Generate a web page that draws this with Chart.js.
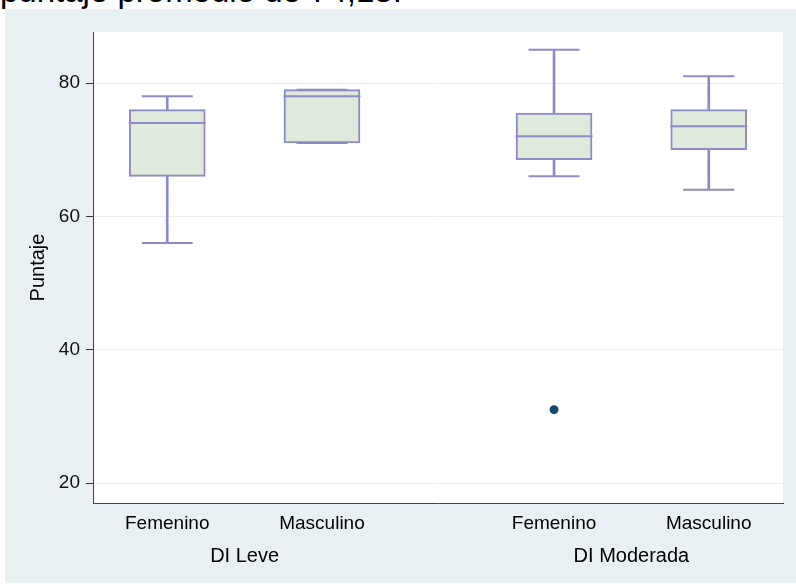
<!DOCTYPE html>
<html>
<head>
<meta charset="utf-8">
<script src="https://cdn.jsdelivr.net/npm/chart.js@4"></script>
<style>
  html, body { margin: 0; padding: 0; background: #fff; }
  #wrap { position: relative; width: 796px; height: 584px; overflow: hidden; }
  #caption { position: absolute; left: 0; top: -26px; font: 33px/33px "Liberation Sans", Arial, sans-serif; color: #000; white-space: nowrap; }
  #chart { position: absolute; left: 0; top: 0; }
</style>
</head>
<body>
<div id="wrap">
  <div id="caption">puntaje promedio de 74,13.</div>
  <canvas id="chart" width="796" height="584"></canvas>
</div>
<script>
// groups / categories
const groupLabels = ['DI Leve', 'DI Moderada'];
const groupPos = [1.5, 4];
const sexLabels = ['Femenino', 'Masculino', 'Femenino', 'Masculino'];
const xPos = [1, 2, 3.5, 4.5];

// box plot stats
const whiskerLow = [56, 71, 66, 64];
const q1 = [66, 71, 68.5, 70];
const median = [74, 78, 72, 73.5];
const q3 = [76, 79, 75.5, 76];
const whiskerHigh = [78, 79, 85, 81];

const outlierX = [3.5];
const outlierY = [31];

const yTicks = [20, 40, 60, 80];

const FONT = '"Liberation Sans", Arial, sans-serif';
const LINE = '#8c8cc5';
const FILL = '#dfe9dc';

// grey panel + white plot region, like the stata graph
const panel = {
    id: 'panel',
    beforeDraw(chart) {
        const { ctx, chartArea: a } = chart;
        ctx.save();
        ctx.fillStyle = '#e9f0f3';
        ctx.fillRect(5, 9, 791, 574);
        ctx.fillStyle = '#fff';
        ctx.fillRect(a.left, a.top, a.right - a.left, a.bottom - a.top);
        ctx.restore();
    }
};

// keep the plot box where the reference has it
function fixSize(prop, size) {
    return s => {
        s[prop] = size;
        s.paddingTop = 0; s.paddingBottom = 0;
        s.paddingLeft = 0; s.paddingRight = 0;
    };
}

const boxData = xPos.map((x, i) => ({ x: x, y: [q1[i], q3[i]] }));
const lowWhisker = xPos.map((x, i) => ({ x: x, y: [whiskerLow[i], q1[i]] }));
const highWhisker = xPos.map((x, i) => ({ x: x, y: [q3[i], whiskerHigh[i]] }));
const caps = xPos.map((x, i) => ({ x: x, y: whiskerLow[i] }))
    .concat(xPos.map((x, i) => ({ x: x, y: whiskerHigh[i] })));
const medians = xPos.map((x, i) => ({ x: x, y: median[i] }));
const outliers = outlierX.map((x, i) => ({ x: x, y: outlierY[i] }));

const xMin = 0.52, xMax = 4.98;

new Chart(document.getElementById('chart'), {
    type: 'bar',
    data: {
        datasets: [
            { type: 'bar', data: lowWhisker, backgroundColor: LINE, barThickness: 2, grouped: false, order: 4 },
            { type: 'bar', data: highWhisker, backgroundColor: LINE, barThickness: 2, grouped: false, order: 4 },
            {
                type: 'bar', data: boxData, backgroundColor: FILL, borderColor: LINE,
                borderWidth: 2, borderSkipped: false, barThickness: 76, grouped: false, order: 3
            },
            {
                type: 'scatter', data: caps, pointStyle: 'line', pointRadius: 25.5,
                pointBorderWidth: 2, borderColor: LINE, order: 2
            },
            {
                type: 'scatter', data: medians, pointStyle: 'line', pointRadius: 38.5,
                pointBorderWidth: 2, borderColor: LINE, order: 1
            },
            {
                type: 'scatter', data: outliers, pointStyle: 'circle', pointRadius: 4.5,
                pointBorderWidth: 0, backgroundColor: '#1a476f', order: 0
            }
        ]
    },
    options: {
        responsive: false,
        animation: false,
        devicePixelRatio: 1,
        events: [],
        layout: { autoPadding: false, padding: { left: 5, top: 32, right: 13, bottom: 0 } },
        plugins: { legend: { display: false }, tooltip: { enabled: false } },
        scales: {
            x: {
                type: 'linear', min: xMin, max: xMax, offset: false, weight: 0,
                afterBuildTicks: s => { s.ticks = xPos.map(v => ({ value: v })); },
                afterFit: fixSize('height', 35),
                grid: { display: false, drawTicks: false, offset: false },
                border: { display: true, color: '#444', width: 1 },
                ticks: {
                    color: '#000', font: { size: 19, family: FONT }, padding: 9,
                    maxRotation: 0, autoSkip: false, callback: (v, i) => sexLabels[i]
                }
            },
            x2: {
                type: 'linear', position: 'bottom', min: xMin, max: xMax, offset: false, weight: 1,
                afterBuildTicks: s => { s.ticks = groupPos.map(v => ({ value: v })); },
                afterFit: fixSize('height', 46),
                grid: { display: false, drawTicks: false },
                border: { display: false },
                ticks: {
                    color: '#000', font: { size: 20, family: FONT }, padding: 6,
                    maxRotation: 0, autoSkip: false, callback: (v, i) => groupLabels[i]
                }
            },
            y: {
                min: 17, max: 87.65, beginAtZero: false,
                afterBuildTicks: s => { s.ticks = yTicks.map(v => ({ value: v })); },
                afterFit: fixSize('width', 88),
                grid: { color: '#eaeef0', tickColor: '#333', tickLength: 7, lineWidth: 1 },
                border: { display: true, color: '#444', width: 1 },
                ticks: { color: '#111', font: { size: 19, family: FONT }, padding: 6 },
                title: {
                    display: true, text: 'Puntaje', color: '#000',
                    font: { size: 20, family: FONT }, padding: { top: 21, bottom: 0 }
                }
            }
        }
    },
    plugins: [panel]
});
</script>
</body>
</html>
